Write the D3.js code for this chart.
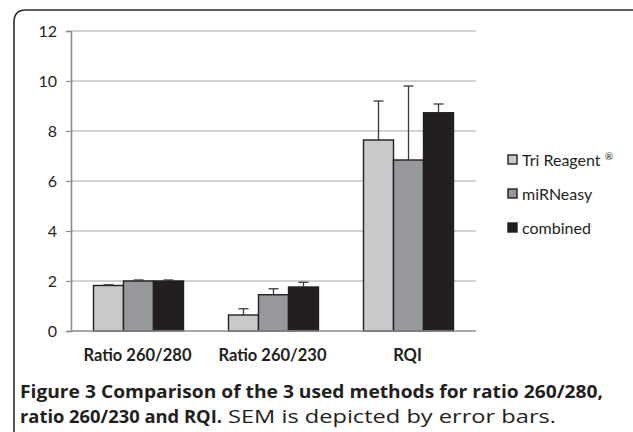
<!DOCTYPE html>
<html>
<head>
<meta charset="utf-8">
<script src="https://cdn.jsdelivr.net/npm/d3@7"></script>
<style>
  body { margin: 0; background: #fff; }
  text { font-family: Lato, "Open Sans", sans-serif; fill: #231f20; }
</style>
</head>
<body>
<div id="chart"></div>
<script>
// data
let categories = ["Ratio 260/280", "Ratio 260/230", "RQI"];
let methods = ["Tri Reagent \u00ae", "miRNeasy", "combined"];
let triValues = [1.82, 0.64, 7.64];
let triErr = [0.03, 0.25, 1.56];
let mirValues = [2.0, 1.45, 6.84];
let mirErr = [0.04, 0.24, 2.96];
let comValues = [2.0, 1.76, 8.73];
let comErr = [0.04, 0.19, 0.35];
let yTicks = [0, 2, 4, 6, 8, 10, 12];

let colors = ["#c8c9cb", "#97989b", "#231f20"];
let series = [
  {name: methods[0], values: triValues, err: triErr},
  {name: methods[1], values: mirValues, err: mirErr},
  {name: methods[2], values: comValues, err: comErr}
];

let svgWidth = 633, svgHeight = 432;
let svg = d3.select("#chart").append("svg")
  .attr("width", svgWidth)
  .attr("height", svgHeight);

// frame with rounded top-left corner
svg.append("path")
  .attr("d", "M14,432 L14,22 Q14,10 26,10 L633,10")
  .attr("fill", "none")
  .attr("stroke", "#2b2b2b")
  .attr("stroke-width", 1.6);

let plotLeft = 71, plotRight = 476, plotTop = 31, plotBottom = 331;

let xScale = d3.scaleBand()
  .domain(categories)
  .range([plotLeft, plotRight])
  .paddingInner(1/3)
  .paddingOuter(1/6);

let x1 = d3.scaleBand()
  .domain(d3.range(series.length))
  .range([0, xScale.bandwidth()]);

let yScale = d3.scaleLinear()
  .domain([0, 12])
  .range([plotBottom, plotTop]);

// gridlines
svg.append("g").selectAll("line")
  .data(yTicks.filter(d => d > 0))
  .enter().append("line")
  .attr("x1", plotLeft).attr("x2", plotRight)
  .attr("y1", d => yScale(d)).attr("y2", d => yScale(d))
  .attr("stroke", "#a6a6a6")
  .attr("stroke-width", 1.2);

// y axis
let yAxis = d3.axisLeft(yScale).tickValues(yTicks).tickSize(5).tickPadding(9);
let yG = svg.append("g")
  .attr("transform", "translate(" + plotLeft + ",0)")
  .call(yAxis);
yG.select(".domain").attr("stroke", "#8c8c8c").attr("stroke-width", 1.6);
yG.selectAll(".tick line").attr("stroke", "#8c8c8c").attr("stroke-width", 1.2);
yG.selectAll(".tick text").attr("font-size", 16).attr("fill", "#231f20")
  .style("font-family", "Lato, sans-serif");

// bars
let groups = svg.append("g").selectAll("g")
  .data(series)
  .enter().append("g");

groups.selectAll("rect")
  .data((s, i) => categories.map((c, j) => ({c: c, v: s.values[j], e: s.err[j], i: i})))
  .enter().append("rect")
  .attr("x", d => xScale(d.c) + x1(d.i))
  .attr("y", d => yScale(d.v))
  .attr("width", x1.bandwidth())
  .attr("height", d => yScale(0) - yScale(d.v))
  .attr("fill", d => colors[d.i])
  .attr("stroke", "#231f20")
  .attr("stroke-width", 1.4);

// error bars (upper only)
let errG = svg.append("g");
series.forEach(function(s, i) {
  categories.forEach(function(c, j) {
    let cx = xScale(c) + x1(i) + x1.bandwidth() / 2;
    let top = yScale(s.values[j] + s.err[j]);
    errG.append("line")
      .attr("x1", cx).attr("x2", cx)
      .attr("y1", yScale(s.values[j])).attr("y2", top)
      .attr("stroke", "#3a3a3a").attr("stroke-width", 1.3);
    errG.append("line")
      .attr("x1", cx - 5).attr("x2", cx + 5)
      .attr("y1", top).attr("y2", top)
      .attr("stroke", "#3a3a3a").attr("stroke-width", 1.3);
  });
});

// x axis line
svg.append("line")
  .attr("x1", plotLeft).attr("x2", plotRight)
  .attr("y1", plotBottom).attr("y2", plotBottom)
  .attr("stroke", "#8c8c8c").attr("stroke-width", 1.6);

// x labels
svg.append("g").selectAll("text")
  .data(categories)
  .enter().append("text")
  .attr("x", d => xScale(d) + xScale.bandwidth() / 2 - 1)
  .attr("y", 361)
  .attr("text-anchor", "middle")
  .attr("font-size", 16.5)
  .attr("font-weight", "bold")
  .text(d => d);

// legend
let legend = svg.append("g").attr("transform", "translate(508,0)");
let legendY = [160, 194, 228];
series.forEach(function(s, i) {
  legend.append("rect")
    .attr("x", 0).attr("y", legendY[i] - 5)
    .attr("width", 9).attr("height", 9)
    .attr("fill", colors[i])
    .attr("stroke", "#231f20").attr("stroke-width", 1.4);
  let t = legend.append("text")
    .attr("x", 14).attr("y", legendY[i] + 6)
    .attr("font-size", 16);
  if (i === 0) {
    t.text("Tri Reagent ");
    t.append("tspan").attr("font-size", 10).attr("dy", -6).text("\u00ae");
  } else {
    t.text(s.name);
  }
});

// caption
let cap = svg.append("g");
cap.append("text")
  .attr("x", 20).attr("y", 398)
  .attr("font-size", 18.5)
  .attr("font-weight", "bold")
  .style("font-family", "'Open Sans', sans-serif")
  .attr("textLength", 583)
  .attr("lengthAdjust", "spacingAndGlyphs")
  .text("Figure 3 Comparison of the 3 used methods for ratio 260/280,");
cap.append("text")
  .attr("x", 20).attr("y", 423)
  .attr("font-size", 18.5)
  .attr("font-weight", "bold")
  .style("font-family", "'Open Sans', sans-serif")
  .attr("textLength", 202)
  .attr("lengthAdjust", "spacingAndGlyphs")
  .text("ratio 260/230 and RQI.");
cap.append("text")
  .attr("x", 228).attr("y", 423)
  .attr("font-size", 18.5)
  .attr("fill", "#3a3a3a")
  .style("font-family", "'Open Sans', sans-serif")
  .attr("textLength", 328)
  .attr("lengthAdjust", "spacingAndGlyphs")
  .text("SEM is depicted by error bars.");
</script>
</body>
</html>
